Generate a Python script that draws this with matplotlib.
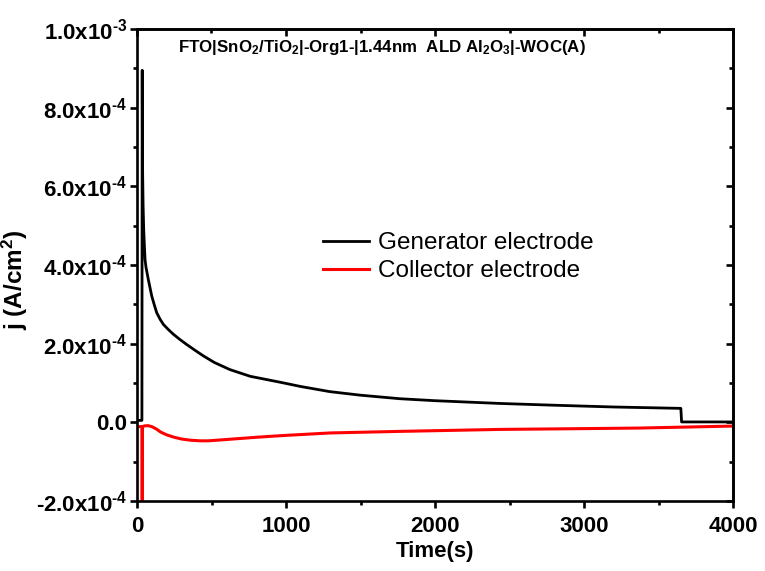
import matplotlib
matplotlib.use("Agg")
import matplotlib.pyplot as plt
from matplotlib.ticker import MultipleLocator

plt.rcParams['font.family'] = ['Liberation Sans', 'DejaVu Sans']
plt.rcParams['mathtext.fontset'] = 'custom'
plt.rcParams['mathtext.rm'] = 'Liberation Sans'
plt.rcParams['mathtext.bf'] = 'Liberation Sans:bold'
plt.rcParams['mathtext.default'] = 'bf'
plt.rcParams['axes.unicode_minus'] = False

# Generator electrode (time in s, current density in A/cm^2)
gen_t = [0, 33, 35, 36, 38, 41, 45, 50, 54, 60, 76, 99, 115, 132, 155, 177,
         210, 244, 290, 333, 390, 445, 520, 624, 760, 960, 1100, 1295, 1500,
         1765, 2000, 2436, 2800, 3200, 3650, 3655, 4000]
gen_j = [0.5e-5, 0.5e-5, 8.95e-4, 7.5e-4, 6.3e-4, 5.5e-4, 4.9e-4, 4.45e-4,
         4.14e-4, 3.95e-4, 3.63e-4, 3.21e-4, 3.0e-4, 2.79e-4, 2.62e-4, 2.49e-4,
         2.36e-4, 2.24e-4, 2.10e-4, 1.98e-4, 1.83e-4, 1.69e-4, 1.52e-4,
         1.34e-4, 1.17e-4, 1.02e-4, 0.91e-4, 7.8e-5, 6.9e-5, 6.0e-5, 5.5e-5,
         4.8e-5, 4.35e-5, 3.9e-5, 3.55e-5, 0.1e-5, 0.1e-5]

# Collector electrode
col_t = [0, 33, 35, 37, 50, 75, 100, 130, 160, 200, 250, 300, 360, 423, 480,
         535, 624, 800, 960, 1295, 1765, 2436, 3000, 3376, 4000]
col_j = [-1.1e-5, -1.1e-5, -2.2e-4, -1.1e-5, -0.9e-5, -0.85e-5, -1.1e-5,
         -1.7e-5, -2.5e-5, -3.2e-5, -3.8e-5, -4.25e-5, -4.55e-5, -4.7e-5,
         -4.7e-5, -4.55e-5, -4.3e-5, -3.8e-5, -3.4e-5, -2.7e-5, -2.3e-5,
         -1.8e-5, -1.6e-5, -1.45e-5, -0.95e-5]

yticks = [-2e-4, 0.0, 2e-4, 4e-4, 6e-4, 8e-4, 1e-3]
ytick_labels = ['-2.0x10$^{\u20104}$', '0.0', '2.0x10$^{\u20104}$',
                '4.0x10$^{\u20104}$', '6.0x10$^{\u20104}$',
                '8.0x10$^{\u20104}$', '1.0x10$^{\u20103}$']
xticks = [0, 1000, 2000, 3000, 4000]

fig = plt.figure(figsize=(7.65, 5.71), dpi=100)
ax = fig.add_axes([137/765, 1-501/571, (733-137)/765, (501-29)/571])

ax.plot(gen_t, gen_j, color='black', lw=2.0, label='Generator electrode')
ax.plot(col_t, col_j, color='#ff0000', lw=2.2, label='Collector electrode')

ax.set_xlim(0, 4000)
ax.set_ylim(-2e-4, 1e-3)
ax.set_xticks(xticks)
ax.set_xticklabels([str(v) for v in xticks])
ax.set_yticks(yticks)
ax.set_yticklabels(ytick_labels)
ax.xaxis.set_minor_locator(MultipleLocator(500))
ax.yaxis.set_minor_locator(MultipleLocator(1e-4))

for s in ax.spines.values():
    s.set_linewidth(1.9)

ax.tick_params(which='major', direction='out', length=5, width=1.9,
               labelsize=16, top=False, right=False)
ax.tick_params(axis='x', which='major', pad=6)
ax.tick_params(axis='y', which='major', pad=2)
ax.tick_params(which='minor', direction='out', length=3, width=1.9,
               top=False, right=False)
for lab in ax.get_xticklabels() + ax.get_yticklabels():
    lab.set_fontweight('bold')

sx = ax.secondary_xaxis('top')
sx.set_xticks(xticks)
sx.xaxis.set_minor_locator(MultipleLocator(500))
sx.tick_params(which='major', direction='in', length=5, width=1.9, labeltop=False)
sx.tick_params(which='minor', direction='in', length=3, width=1.9)
sx.spines['top'].set_linewidth(1.9)

sy = ax.secondary_yaxis('right')
sy.set_yticks(yticks)
sy.yaxis.set_minor_locator(MultipleLocator(1e-4))
sy.tick_params(which='major', direction='in', length=5, width=1.9, labelright=False)
sy.tick_params(which='minor', direction='in', length=3, width=1.9)
sy.spines['right'].set_linewidth(1.9)

ax.set_xlabel('Time(s)', fontsize=16, fontweight='bold')
ax.xaxis.set_label_coords((435-137)/596, -(541-501)/472)
ax.set_ylabel(r'j (A/cm$^2$)', fontsize=17.5, fontweight='bold')
ax.yaxis.set_label_coords(-(137-30)/596, (501-280)/472)

ax.text(0.068, 0.96,
        r'FTO|SnO$_2$/TiO$_2$|-Org1-|1.44nm  ALD Al$_2$O$_3$|-WOC(A)',
        transform=ax.transAxes, fontsize=12.2, fontweight='bold',
        ha='left', va='center')

leg = ax.legend(loc='upper left', bbox_to_anchor=(0.295, 0.59), frameon=False,
                fontsize=17.5, handlelength=1.9, handletextpad=0.4,
                labelspacing=0.25, borderaxespad=0)

fig.savefig('out.png', dpi=100)
